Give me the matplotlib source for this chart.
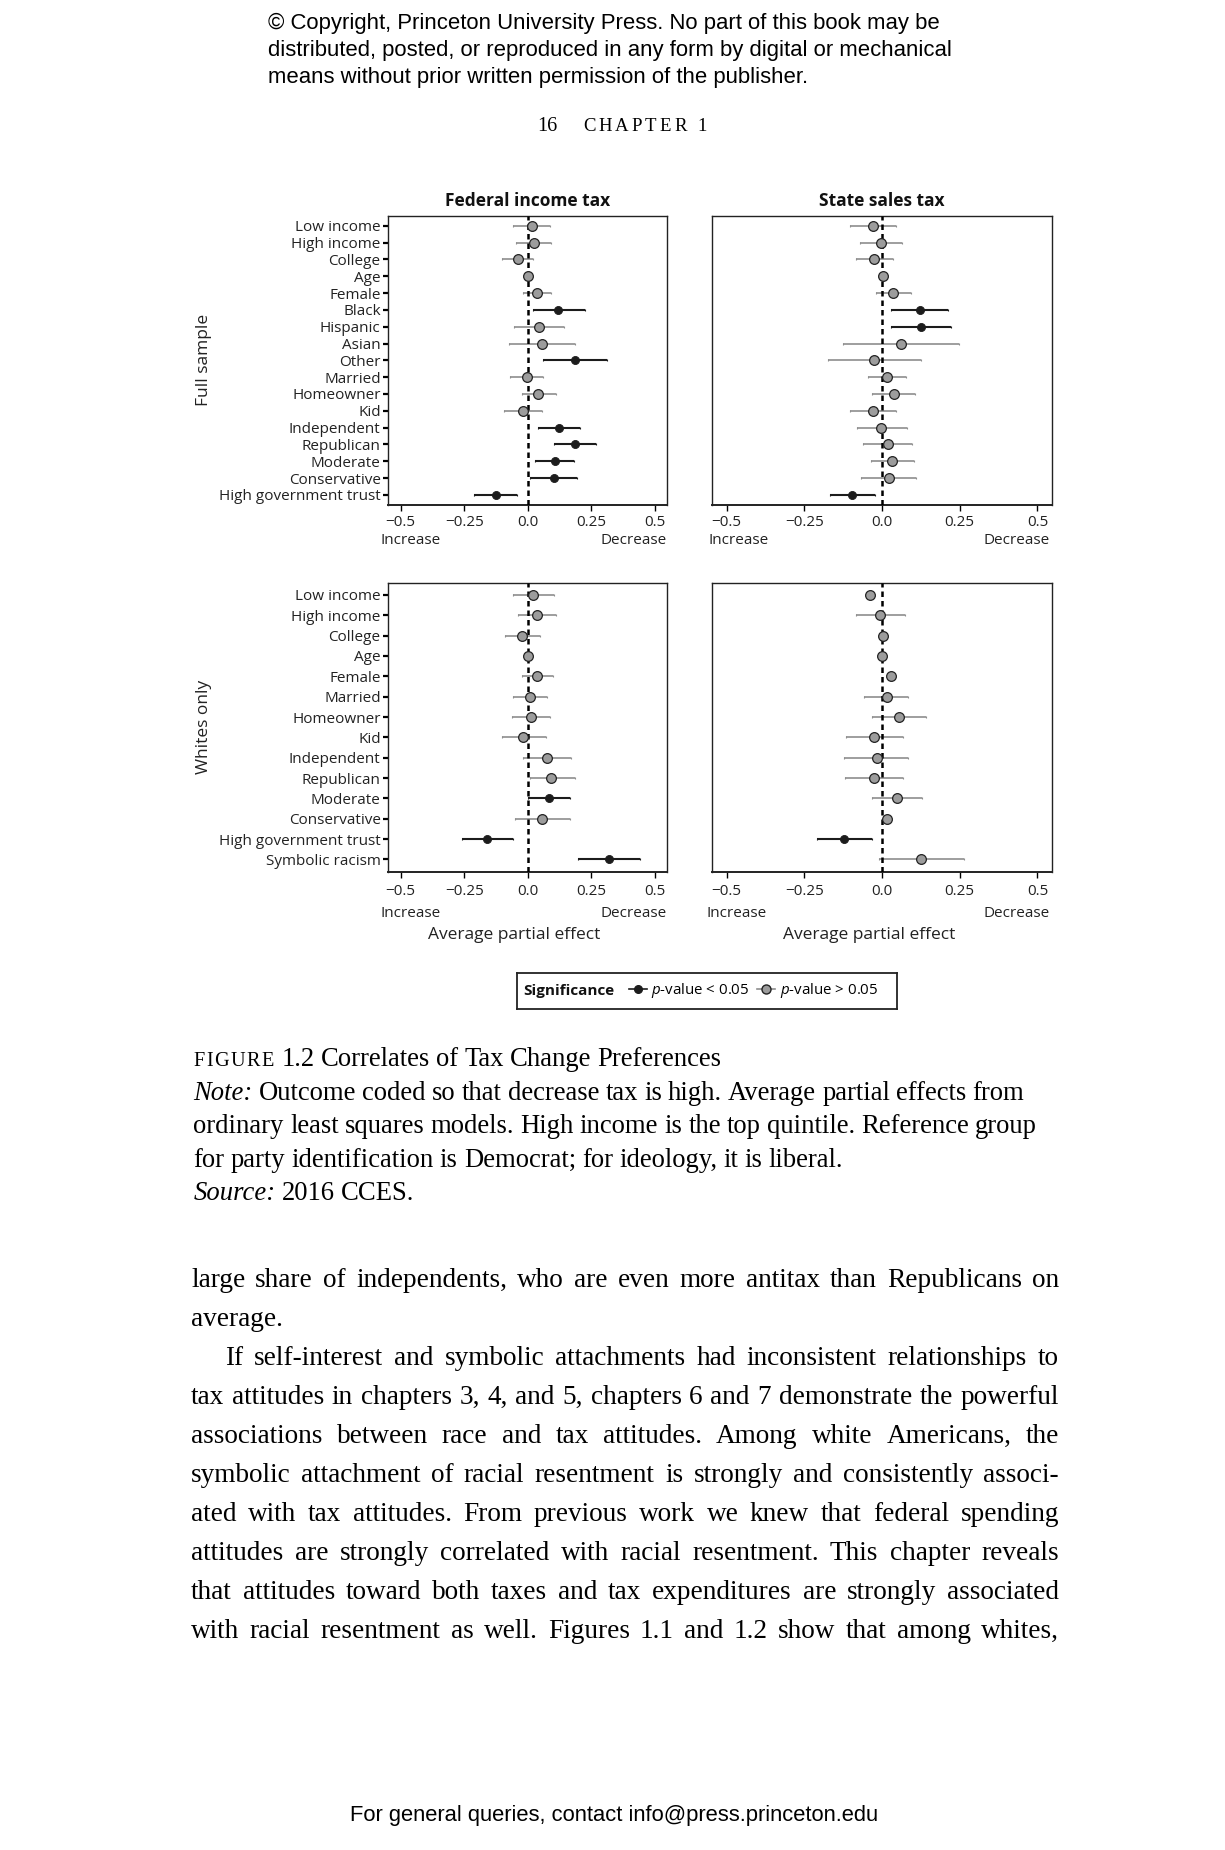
import matplotlib
matplotlib.use("Agg")
import matplotlib.pyplot as plt
from matplotlib.lines import Line2D

W, H = 1225, 1850

# ---------------- data ----------------
labels_full = ["Low income", "High income", "College", "Age", "Female", "Black",
               "Hispanic", "Asian", "Other", "Married", "Homeowner", "Kid",
               "Independent", "Republican", "Moderate", "Conservative",
               "High government trust"]
labels_white = ["Low income", "High income", "College", "Age", "Female", "Married",
                "Homeowner", "Kid", "Independent", "Republican", "Moderate",
                "Conservative", "High government trust", "Symbolic racism"]

fed_full_est = [0.016, 0.024, -0.039, 0.0, 0.037, 0.118, 0.043, 0.056, 0.185, -0.004,
                0.042, -0.018, 0.122, 0.184, 0.105, 0.102, -0.126]
fed_full_lo = [-0.059, -0.046, -0.101, -0.012, -0.017, 0.020, -0.056, -0.072, 0.059,
               -0.068, -0.022, -0.092, 0.039, 0.101, 0.030, 0.010, -0.210]
fed_full_hi = [0.088, 0.092, 0.020, 0.012, 0.092, 0.223, 0.144, 0.184, 0.311, 0.059,
               0.109, 0.056, 0.206, 0.266, 0.180, 0.194, -0.042]
fed_full_sig = [0, 0, 0, 0, 0, 1, 0, 0, 1, 0, 0, 0, 1, 1, 1, 1, 1]

state_full_est = [-0.030, -0.004, -0.025, 0.002, 0.037, 0.121, 0.125, 0.060, -0.025,
                  0.016, 0.038, -0.030, -0.002, 0.018, 0.033, 0.021, -0.096]
state_full_lo = [-0.104, -0.072, -0.085, -0.008, -0.018, 0.030, 0.030, -0.127, -0.173,
                 -0.046, -0.031, -0.104, -0.082, -0.062, -0.034, -0.068, -0.168]
state_full_hi = [0.045, 0.064, 0.037, 0.012, 0.093, 0.212, 0.221, 0.247, 0.125, 0.077,
                 0.105, 0.045, 0.079, 0.098, 0.104, 0.111, -0.024]
state_full_sig = [0, 0, 0, 0, 0, 1, 1, 0, 0, 0, 0, 0, 0, 0, 0, 0, 1]

fed_white_est = [0.022, 0.035, -0.024, 0.0, 0.038, 0.009, 0.012, -0.018, 0.075, 0.091,
                 0.083, 0.056, -0.160, 0.319]
fed_white_lo = [-0.059, -0.039, -0.091, -0.010, -0.022, -0.059, -0.063, -0.102, -0.020,
                0.007, 0.001, -0.051, -0.259, 0.197]
fed_white_hi = [0.102, 0.112, 0.047, 0.010, 0.098, 0.076, 0.088, 0.072, 0.171, 0.186,
                0.165, 0.165, -0.059, 0.442]
fed_white_sig = [0, 0, 0, 0, 0, 0, 0, 0, 0, 0, 1, 0, 1, 1]

state_white_est = [-0.040, -0.006, 0.004, 0.001, 0.029, 0.015, 0.056, -0.027, -0.017,
                   -0.027, 0.048, 0.015, -0.122, 0.125]
state_white_lo = [-0.048, -0.085, -0.004, -0.007, 0.021, -0.057, -0.031, -0.116, -0.121,
                  -0.120, -0.033, 0.007, -0.209, -0.011]
state_white_hi = [-0.032, 0.073, 0.012, 0.009, 0.037, 0.085, 0.141, 0.067, 0.085, 0.069,
                  0.130, 0.023, -0.032, 0.263]
state_white_sig = [0, 0, 0, 0, 0, 0, 0, 0, 0, 0, 0, 0, 1, 0]

xticks = [-0.5, -0.25, 0.0, 0.25, 0.5]
xticklabels = ["\u22120.5", "\u22120.25", "0.0", "0.25", "0.5"]

header_lines = [
    "\u00a9 Copyright, Princeton University Press. No part of this book may be",
    "distributed, posted, or reproduced in any form by digital or mechanical",
    "means without prior written permission of the publisher.",
]
footer = "For general queries, contact info@press.princeton.edu"

caption_lines = [
    [("FIGURE", "sc"), ("1.2 Correlates of Tax Change Preferences", "r")],
    [("Note:", "i"), ("Outcome coded so that decrease tax is high. Average partial effects from", "r")],
    [("ordinary least squares models. High income is the top quintile. Reference group", "r")],
    [("for party identification is Democrat; for ideology, it is liberal.", "r")],
    [("Source:", "i"), ("2016 CCES.", "r")],
]

body_lines = [
    ("large share of independents, who are even more antitax than Republicans on", True, False),
    ("average.", False, False),
    ("If self-interest and symbolic attachments had inconsistent relationships to", True, True),
    ("tax attitudes in chapters 3, 4, and 5, chapters 6 and 7 demonstrate the powerful", True, False),
    ("associations between race and tax attitudes. Among white Americans, the", True, False),
    ("symbolic attachment of racial resentment is strongly and consistently associ-", True, False),
    ("ated with tax attitudes. From previous work we knew that federal spending", True, False),
    ("attitudes are strongly correlated with racial resentment. This chapter reveals", True, False),
    ("that attitudes toward both taxes and tax expenditures are strongly associated", True, False),
    ("with racial resentment as well. Figures 1.1 and 1.2 show that among whites,", True, False),
]

# ---------------- setup ----------------
plt.rcParams["font.family"] = ["Open Sans", "DejaVu Sans"]
plt.rcParams["mathtext.fontset"] = "custom"
plt.rcParams["mathtext.it"] = "Open Sans:italic"
plt.rcParams["mathtext.rm"] = "Open Sans"

fig = plt.figure(figsize=(W / 100, H / 100), dpi=100)
fig.patch.set_facecolor("white")
renderer = fig.canvas.get_renderer()

BLACK = "#1c1c1c"
GREY_LINE = "#8e8e8e"
GREY_FILL = "#9c9c9c"
TXT = "#222222"


def add_ax(x0, y0, x1, y1):
    return fig.add_axes([x0 / W, 1 - y1 / H, (x1 - x0) / W, (y1 - y0) / H])


def ftext(x, y, s, **kw):
    return fig.text(x / W, 1 - y / H, s, **kw)


def draw_panel(ax, labels, est, lo, hi, sig, show_labels, tpad):
    n = len(labels)
    for i in range(n):
        col = BLACK if sig[i] else GREY_LINE
        ax.errorbar([est[i]], [i], xerr=[[est[i] - lo[i]], [hi[i] - est[i]]],
                    fmt="none", ecolor=col, elinewidth=1.5 if sig[i] else 1.2,
                    capsize=1.0, capthick=0.8, zorder=2)
        if sig[i]:
            ax.plot(est[i], i, "o", ms=5.8, mfc=BLACK, mec=BLACK, mew=0.6, zorder=4)
        else:
            ax.plot(est[i], i, "o", ms=7.0, mfc=GREY_FILL, mec="#222222", mew=0.9, zorder=4)
    ax.axvline(0, color="black", lw=1.8, ls=(0, (2.2, 1.6)), zorder=3)
    ax.set_xlim(-0.548, 0.548)
    ax.set_ylim(n - 1 + 0.6, -0.6)
    ax.set_xticks(xticks)
    ax.set_xticklabels(xticklabels, fontsize=11, color=TXT)
    ax.tick_params(axis="x", direction="out", length=4, width=1.0, pad=tpad)
    if show_labels:
        ax.set_yticks(range(n))
        ax.set_yticklabels(labels, fontsize=11, color=TXT)
        ax.tick_params(axis="y", direction="out", length=3.5, width=1.6, pad=2)
    else:
        ax.set_yticks([])
    for sp in ax.spines.values():
        sp.set_linewidth(1.0)
        sp.set_color("#222222")
    ax.spines["bottom"].set_linewidth(1.4)


ax_tl = add_ax(388.3, 215.7, 667.3, 505)
ax_tr = add_ax(711.7, 215.7, 1052.3, 505)
ax_bl = add_ax(388.3, 582.7, 667.3, 871.7)
ax_br = add_ax(711.7, 582.7, 1052.3, 871.7)

draw_panel(ax_tl, labels_full, fed_full_est, fed_full_lo, fed_full_hi, fed_full_sig, True, 3)
draw_panel(ax_tr, labels_full, state_full_est, state_full_lo, state_full_hi, state_full_sig, False, 3)
draw_panel(ax_bl, labels_white, fed_white_est, fed_white_lo, fed_white_hi, fed_white_sig, True, 5)
draw_panel(ax_br, labels_white, state_white_est, state_white_lo, state_white_hi, state_white_sig, False, 5)

ax_tl.set_title("Federal income tax", fontsize=12.5, fontweight="bold", pad=7, color="#111111")
ax_tr.set_title("State sales tax", fontsize=12.5, fontweight="bold", pad=7, color="#111111")

# direction labels under each panel
for (xl, xr, yy) in [(381, 667, 540), (708, 1050, 540), (381, 667, 913), (707, 1050, 913)]:
    ftext(xl, yy, "Increase", fontsize=11, ha="left", va="center", color=TXT)
    ftext(xr, yy, "Decrease", fontsize=11, ha="right", va="center", color=TXT)
ftext(514, 935, "Average partial effect", fontsize=12.5, ha="center", va="center", color=TXT)
ftext(869, 935, "Average partial effect", fontsize=12.5, ha="center", va="center", color=TXT)
ftext(204, 360, "Full sample", fontsize=12.5, rotation=90, ha="center", va="center", color=TXT)
ftext(204, 727, "Whites only", fontsize=12.5, rotation=90, ha="center", va="center", color=TXT)

# legend box
lax = add_ax(516.7, 972.7, 897.3, 1009.3)
lax.set_xticks([])
lax.set_yticks([])
for sp in lax.spines.values():
    sp.set_linewidth(1.3)
    sp.set_color("#222222")
lax.text(0.018, 0.5, "Significance", transform=lax.transAxes, fontsize=11,
         fontweight="bold", va="center", ha="left", color="#111111")
h_sig = Line2D([], [], color=BLACK, lw=1.2, marker="o", ms=5.5, mfc=BLACK, mec=BLACK)
h_ns = Line2D([], [], color=GREY_LINE, lw=1.2, marker="o", ms=6.5, mfc=GREY_FILL, mec="#222222")
leg = lax.legend([h_sig, h_ns], [r"$p$-value < 0.05", r"$p$-value > 0.05"], ncol=2,
                 loc="center left", bbox_to_anchor=(0.295, 0.5), frameon=False,
                 fontsize=10.8, handlelength=1.2, handletextpad=0.3, columnspacing=0.5,
                 borderpad=0, borderaxespad=0)

# ---------------- page text ----------------
SANS = "Liberation Sans"
SERIF = "Liberation Serif"

for k, line in enumerate(header_lines):
    ftext(268, 23.6 + k * 27.1, line, fontsize=15.9, family=SANS, ha="left", va="center")
ftext(614, 1815, footer, fontsize=15.8, family=SANS, ha="center", va="center")


def text_width(t):
    return t.get_window_extent(renderer=renderer).width


def spaced(x, y, s, size, track):
    for ch in s:
        t = ftext(x, y, ch, fontsize=size, family=SERIF, ha="left", va="baseline")
        x += text_width(t) + track
    return x


# running head
ftext(537, 131, "16", fontsize=14.5, family=SERIF, ha="left", va="baseline")
spaced(583, 131, "CHAPTER 1", 13.5, 3.0)

STYLE = {"r": {}, "i": {"style": "italic"}, "sc": {}}


def set_line(y, runs, x0, x1, size, justify):
    words = []
    for txt, st in runs:
        for w in txt.split(" "):
            if w:
                words.append((w, st))
    items = []
    for w, st in words:
        if st == "sc":
            # small caps drawn as reduced capitals with tracking
            grp = []
            for ch in w:
                grp.append(ftext(0, y, ch, fontsize=size * 0.76, family=SERIF,
                                 ha="left", va="baseline"))
            widths = [text_width(g) + 1.5 for g in grp]
            items.append((grp, widths, sum(widths)))
        else:
            t = ftext(0, y, w, fontsize=size, family=SERIF, ha="left",
                      va="baseline", **STYLE[st])
            items.append(([t], [text_width(t)], text_width(t)))
    total = sum(it[2] for it in items)
    space = size * 100 / 72 * 0.23
    if justify and len(items) > 1:
        space = (x1 - x0 - total) / (len(items) - 1)
    x = x0
    for grp, widths, wtot in items:
        xx = x
        for g, wd in zip(grp, widths):
            g.set_x(xx / W)
            xx += wd
        x += wtot + space


for k, runs in enumerate(caption_lines):
    set_line(1066 + k * 33.6, runs, 193.5, 1056, 19.2, False)

for k, (line, just, indent) in enumerate(body_lines):
    x0 = 225 if indent else 191
    set_line(1287 + k * 39.0, [(line, "r")], x0, 1059, 19.6, just)

fig.savefig("out.png", dpi=100, facecolor="white")
